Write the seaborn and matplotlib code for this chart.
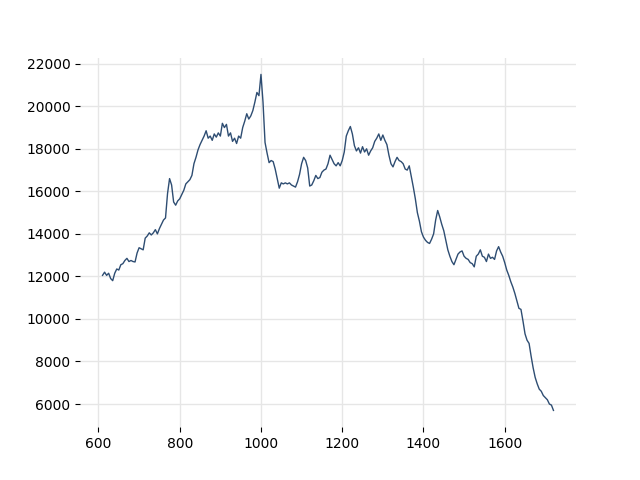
import numpy as np
import pandas as pd
import matplotlib
matplotlib.use("Agg")
import matplotlib.pyplot as plt
import seaborn as sns

# x positions: every 5 units from 610 to 1720
steps = np.arange(610, 1725, 5)

# values, 10 per row
values = [
    12050, 12200, 12050, 12150, 11900, 11800, 12150, 12350, 12300, 12550,  # 610
    12600, 12750, 12850, 12700, 12750, 12700, 12680, 13100, 13350, 13300,  # 660
    13250, 13800, 13900, 14050, 13950, 14050, 14200, 14000, 14250, 14450,  # 710
    14650, 14750, 15900, 16600, 16300, 15500, 15350, 15550, 15650, 15850,  # 760
    16050, 16350, 16450, 16550, 16750, 17300, 17600, 17950, 18200, 18400,  # 810
    18600, 18850, 18500, 18600, 18400, 18700, 18550, 18750, 18600, 19200,  # 860
    19000, 19150, 18600, 18750, 18350, 18500, 18250, 18600, 18500, 19000,  # 910
    19300, 19650, 19400, 19550, 19800, 20200, 20650, 20500, 21500, 20200,  # 960
    18300, 17800, 17350, 17450, 17400, 17050, 16600, 16150, 16400, 16350,  # 1010
    16400, 16350, 16400, 16300, 16250, 16200, 16450, 16800, 17300, 17600,  # 1060
    17450, 17100, 16250, 16300, 16500, 16750, 16600, 16650, 16900, 17000,  # 1110
    17050, 17300, 17700, 17500, 17300, 17200, 17350, 17200, 17450, 17850,  # 1160
    18600, 18850, 19050, 18700, 18150, 17900, 18050, 17800, 18100, 17850,  # 1210
    18000, 17700, 17900, 18050, 18350, 18500, 18700, 18400, 18650, 18400,  # 1260
    18200, 17700, 17300, 17150, 17400, 17600, 17450, 17400, 17300, 17050,  # 1310
    17000, 17200, 16700, 16200, 15650, 15000, 14600, 14100, 13850, 13700,  # 1360
    13600, 13550, 13750, 14000, 14650, 15100, 14800, 14450, 14150, 13700,  # 1410
    13250, 12950, 12700, 12550, 12800, 13050, 13150, 13200, 12950, 12850,  # 1460
    12800, 12650, 12600, 12450, 12950, 13050, 13250, 12950, 12900, 12700,  # 1510
    13050, 12850, 12900, 12800, 13200, 13400, 13150, 12950, 12650, 12300,  # 1560
    12050, 11750, 11500, 11200, 10850, 10500, 10450, 9900, 9300, 9000,     # 1610
    8850, 8250, 7700, 7250, 6950, 6700, 6600, 6400, 6300, 6200,            # 1660
    6000, 5950, 5700,                                                      # 1710
]

df = pd.DataFrame({"x": steps, "y": values})

fig, ax = plt.subplots(figsize=(6.4, 4.8), dpi=100)
sns.lineplot(data=df, x="x", y="y", color="#2e4d72", linewidth=1.0, ax=ax)

ax.grid(True, color="#e6e6e6", linewidth=1)
ax.set_axisbelow(True)
sns.despine(ax=ax, left=True, bottom=True)
ax.set_xlabel("")
ax.set_ylabel("")
ax.set_yticks(range(6000, 22001, 2000))

plt.savefig("out.png", dpi=100)
